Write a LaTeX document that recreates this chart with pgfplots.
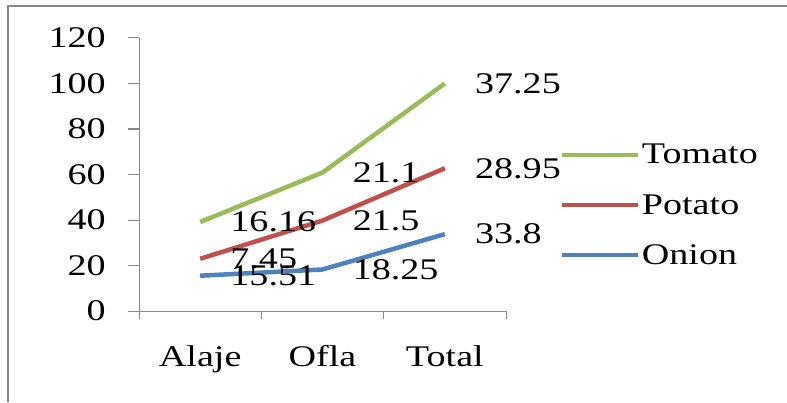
\documentclass[border=0pt]{standalone}
\usepackage{pgfplots}
\pgfplotsset{compat=1.18}
\usepackage{pgfplotstable}
\usepackage{fontspec}
\setmainfont{Liberation Serif}[FakeStretch=1.27]

\definecolor{tomatoC}{HTML}{9BBB59}
\definecolor{potatoC}{HTML}{C0504D}
\definecolor{onionC}{HTML}{4F81BD}
\definecolor{framegray}{HTML}{888888}

% Production by zone (stacked lines)
\pgfplotstableread{
x onion potato tomato
0 15.51 7.45  16.16
1 18.25 21.5  21.1
2 33.8  28.95 37.25
}\yielddata

\newcommand{\chartfont}{\fontsize{30}{34}\selectfont}

\begin{document}
\begin{tikzpicture}[font=\chartfont]
\useasboundingbox (0pt,0pt) rectangle (787pt,402pt);
\draw[framegray, line width=2.5pt] (8pt,0pt) -- (8pt,396pt) -- (787pt,396pt);
\begin{axis}[
  at={(139pt,91pt)}, anchor=south west,
  scale only axis, width=367pt, height=273pt,
  xmin=-0.5, xmax=2.5, ymin=0, ymax=120,
  clip=false,
  axis x line*=bottom, axis y line*=left,
  axis line style={framegray, line width=1pt, -},
  xtick={0,1,2}, xticklabels={Alaje,Ofla,Total},
  minor xtick={-0.5,0.5,1.5,2.5},
  major x tick style={draw=none},
  minor x tick style={framegray, line width=1pt},
  ytick={0,20,...,120},
  y tick style={framegray, line width=1pt},
  tick align=outside,
  major tick length=11pt, minor tick length=8pt,
  /pgf/number format/assume math mode=true,
  ticklabel style={font=\chartfont},
  yticklabel style={inner sep=0pt, xshift=-22pt},
  xticklabel style={yshift=-20pt},
  stack plots=y,
  nodes near coords,
  point meta=explicit,
  every node near coord/.style={anchor=west, xshift=28pt, inner sep=0pt, text=black,
    font=\chartfont},
  legend style={at={(1.145,0.388)}, anchor=west, draw=none, fill=none,
    inner sep=0pt, row sep=25pt, nodes={inner sep=2pt, text=black},
    font=\chartfont},
  legend cell align=left,
  reverse legend,
  legend image code/.code={\draw[#1, line width=4.5pt] (0pt,0pt) -- (76pt,0pt);},
]
\addplot[onionC, line width=4.5pt] table[x=x, y=onion, meta=onion] {\yielddata};
\addlegendentry{Onion}
\addplot[potatoC, line width=4.5pt] table[x=x, y=potato, meta=potato] {\yielddata};
\addlegendentry{Potato}
\addplot[tomatoC, line width=4.5pt] table[x=x, y=tomato, meta=tomato] {\yielddata};
\addlegendentry{Tomato}
\end{axis}
\end{tikzpicture}
\end{document}
